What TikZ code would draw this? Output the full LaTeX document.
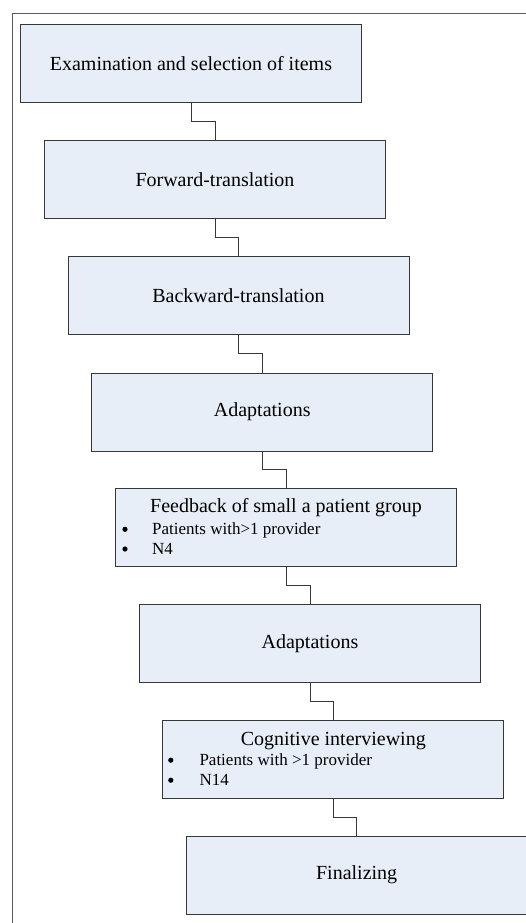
\documentclass[tikz,border=0pt]{standalone}
\usepackage{fontspec}
\setmainfont{Liberation Serif}
\usetikzlibrary{calc}
\definecolor{boxfill}{RGB}{232,238,247}
\definecolor{boxline}{RGB}{55,55,55}
\definecolor{frameline}{RGB}{90,90,90}
\tikzset{
  stage/.style={draw=boxline, line width=0.9pt, fill=boxfill, rectangle, inner sep=0pt,
    minimum width=341pt, minimum height=78pt, anchor=north west,
    font=\fontsize{20}{24}\selectfont},
  title/.style={anchor=base, inner sep=0pt, font=\fontsize{20}{24}\selectfont},
  item/.style={anchor=base west, inner sep=0pt, font=\fontsize{17}{20}\selectfont},
  dot/.style={circle, fill=black, inner sep=0pt, minimum size=5.2pt},
  link/.style={draw=boxline, line width=0.9pt}
}
\begin{document}
\begin{tikzpicture}[x=1pt, y=-1pt]
\clip (0,0) rectangle (526,923);
\fill[white] (0,0) rectangle (526,923);
% outer frame (extends past the right and bottom edges)
\draw[frameline, line width=0.9pt] (540,13) -- (12,13) -- (12,940);

\node[stage] (b1) at (20,24) {Examination and selection of items};
\node[stage] (b2) at (44,140) {Forward-translation};
\node[stage] (b3) at (67.5,256) {Backward-translation};
\node[stage] (b4) at (91.3,372.5) {Adaptations};
\node[stage] (b5) at (115,488) {};
\node[stage] (b6) at (139,604) {Adaptations};
\node[stage] (b7) at (162.3,719.5) {};
\node[stage] (b8) at (185.7,835.5) {Finalizing};

% texts of the boxes with bullets
\node[title] (t5) at ($(b5.north)+(0,24.5)$) {Feedback of small a patient group};
\node[dot] (d5a) at ($(b5.north west)+(10,41.3)$) {};
\node[item] (i5a) at ($(b5.north west)+(37,46.3)$) {Patients with>1 provider};
\node[dot] (d5b) at ($(b5.north west)+(10,61)$) {};
\node[item] (i5b) at ($(b5.north west)+(37,66)$) {N4};

\node[title] (t7) at ($(b7.north)+(0,25.5)$) {Cognitive interviewing};
\node[dot] (d7a) at ($(b7.north west)+(8.5,40.7)$) {};
\node[item] (i7a) at ($(b7.north west)+(37,45.7)$) {Patients with >1 provider};
\node[dot] (d7b) at ($(b7.north west)+(8.5,60.7)$) {};
\node[item] (i7b) at ($(b7.north west)+(37,65.7)$) {N14};

% elbow connectors
\foreach \a/\b in {b1/b2,b2/b3,b3/b4,b4/b5,b5/b6,b6/b7,b7/b8}{
  \draw[link] (\a.south) |- ($(\a.south)!0.5!(\b.north)$) -| (\b.north);
}
\end{tikzpicture}
\end{document}
